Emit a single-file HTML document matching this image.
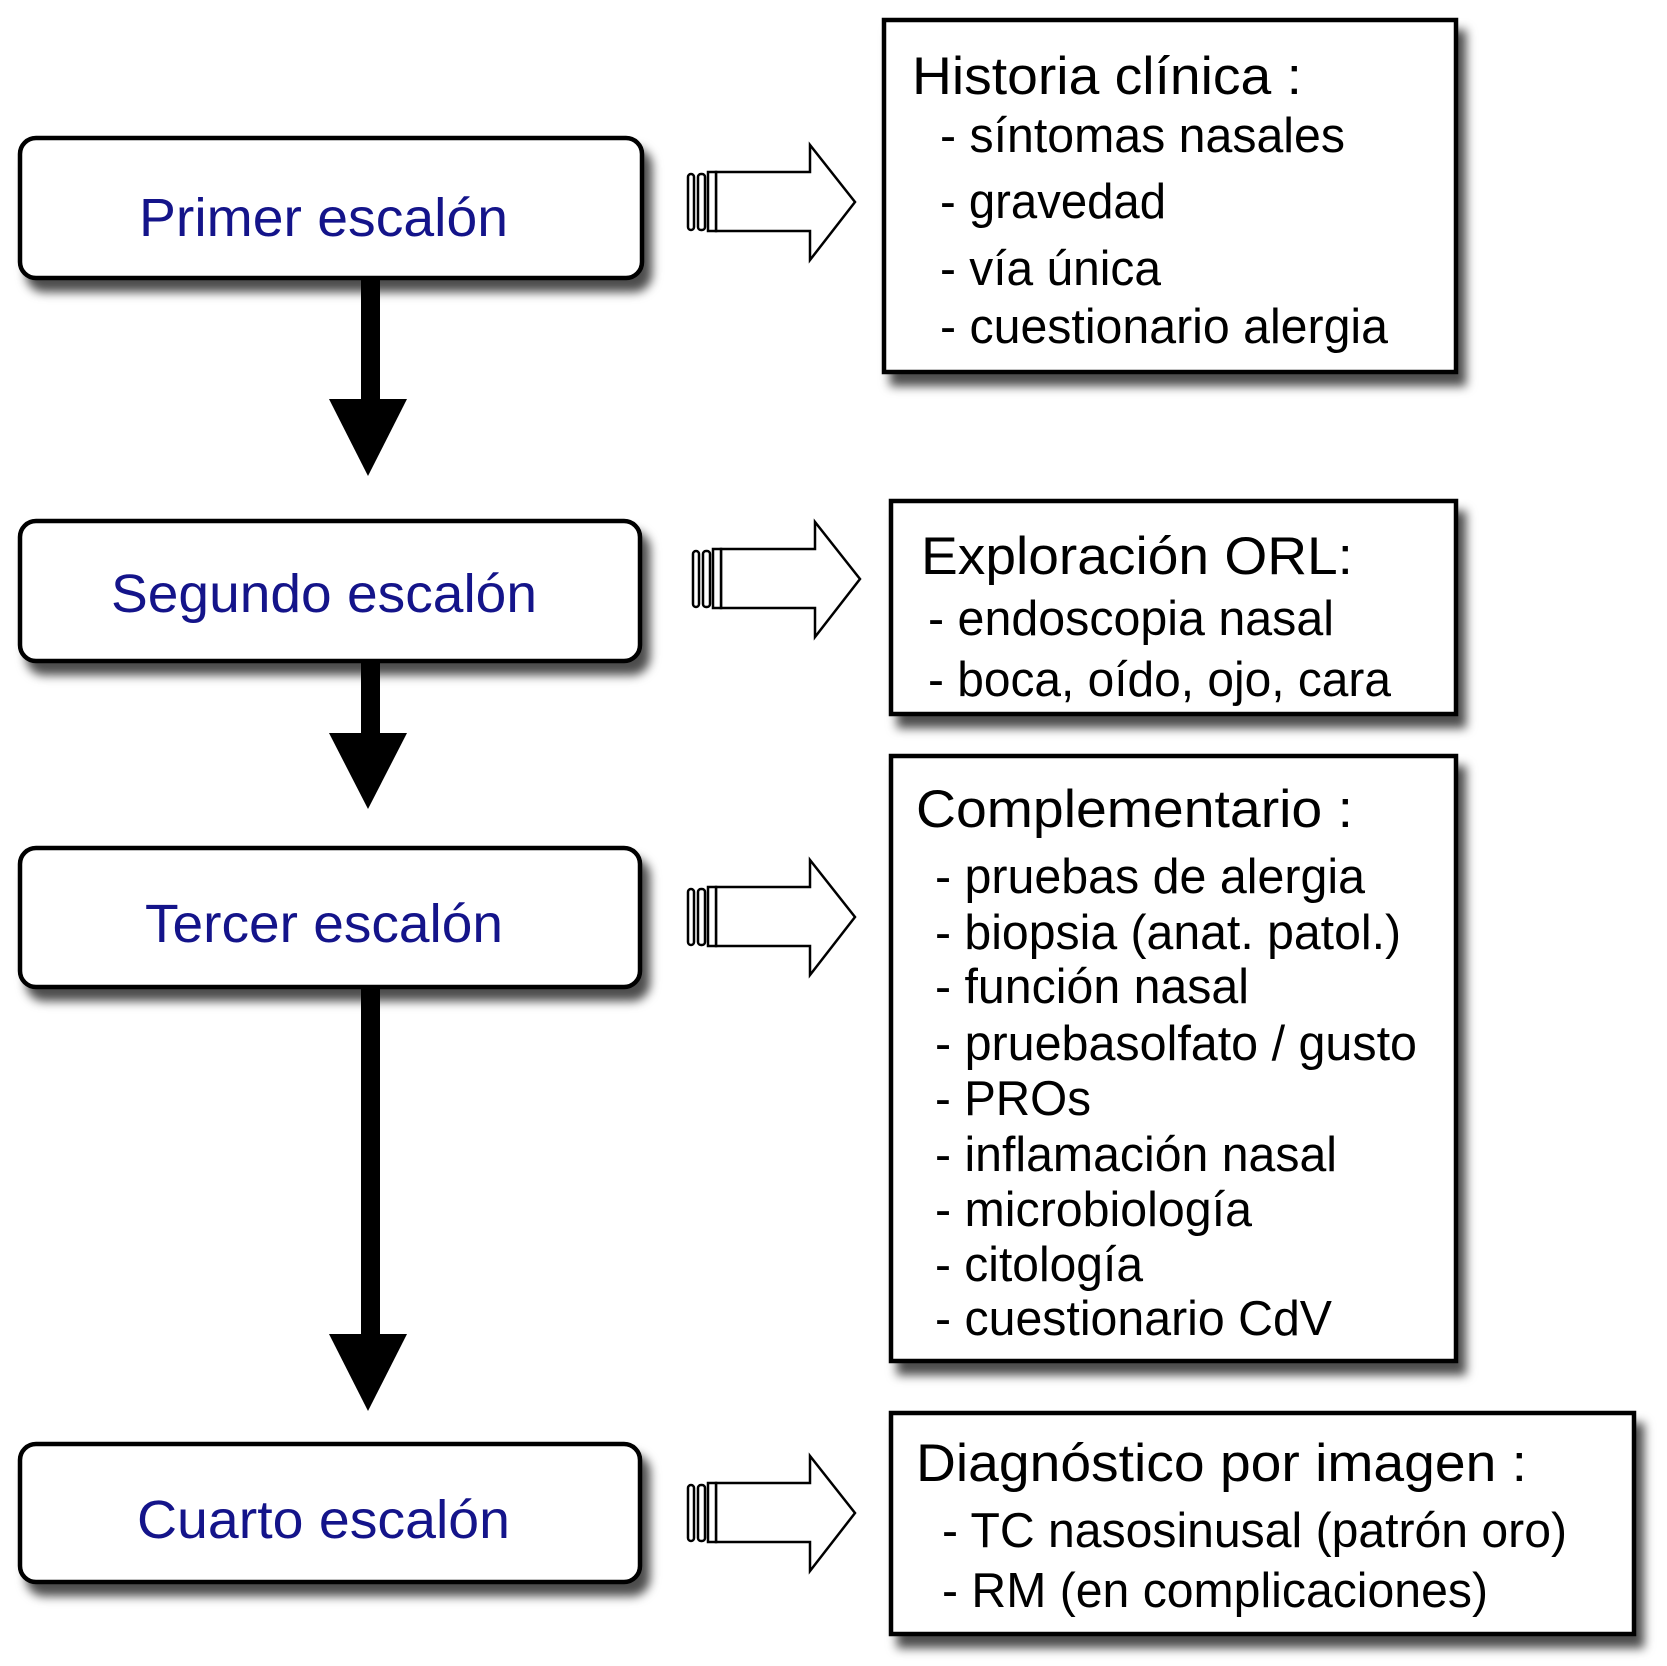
<!DOCTYPE html>
<html><head><meta charset="utf-8"><style>html,body{margin:0;padding:0;background:#fff}svg{display:block}</style></head>
<body>
<svg width="1667" height="1666" viewBox="0 0 1667 1666" xmlns="http://www.w3.org/2000/svg" font-family="'Liberation Sans', sans-serif">
<defs>
<filter id="sh" x="-10%" y="-10%" width="130%" height="140%">
<feDropShadow dx="8" dy="12" stdDeviation="5" flood-color="#000" flood-opacity="0.7"/>
</filter>
<g id="ha">
<polygon points="716,-30 810,-30 810,-57 855,0 810,58 810,29 716,29" fill="#fff" stroke="#000" stroke-width="2.5" stroke-linejoin="miter"/>
<rect x="688" y="-28" width="6" height="56" rx="3" fill="#fff" stroke="#000" stroke-width="2.5"/>
<rect x="698" y="-28" width="7" height="56" rx="3" fill="#fff" stroke="#000" stroke-width="2.5"/>
<rect x="708" y="-30" width="8" height="59" fill="#fff" stroke="#000" stroke-width="2.5"/>
</g>
</defs>

<g fill="#fff" stroke="#000" stroke-width="4.5" filter="url(#sh)">
<rect x="20" y="138" width="622" height="140" rx="16"/>
<rect x="20" y="521" width="620" height="140" rx="16"/>
<rect x="20" y="848" width="620" height="139" rx="16"/>
<rect x="20" y="1444" width="620" height="138" rx="16"/>
</g>
<g fill="#14148a" font-size="54">
<text x="139" y="236" textLength="369" lengthAdjust="spacingAndGlyphs">Primer escalón</text>
<text x="111" y="612" textLength="426" lengthAdjust="spacingAndGlyphs">Segundo escalón</text>
<text x="145" y="942" textLength="358" lengthAdjust="spacingAndGlyphs">Tercer escalón</text>
<text x="137" y="1538" textLength="373" lengthAdjust="spacingAndGlyphs">Cuarto escalón</text>
</g>

<g fill="#000">
<rect x="361" y="278" width="19" height="124"/>
<polygon points="329,399 407,399 368,476"/>
<rect x="361" y="661" width="19" height="75"/>
<polygon points="329,733 407,733 368,809"/>
<rect x="361" y="987" width="19" height="350"/>
<polygon points="329,1334 407,1334 368,1411"/>
</g>

<use href="#ha" transform="translate(0,202)"/>
<use href="#ha" transform="translate(5,579)"/>
<use href="#ha" transform="translate(0,917)"/>
<use href="#ha" transform="translate(0,1513)"/>

<g fill="#fff" stroke="#000" stroke-width="4.5" filter="url(#sh)">
<rect x="884" y="20" width="572" height="352"/>
<rect x="891" y="501" width="565" height="213"/>
<rect x="891" y="756" width="565" height="605"/>
<rect x="891" y="1413" width="743" height="221"/>
</g>
<g fill="#000">
<text x="912" y="94" font-size="53" textLength="390" lengthAdjust="spacingAndGlyphs">Historia clínica :</text>
<g font-size="49">
<text x="940" y="152" textLength="405" lengthAdjust="spacingAndGlyphs">- síntomas nasales</text>
<text x="940" y="218" textLength="226" lengthAdjust="spacingAndGlyphs">- gravedad</text>
<text x="940" y="285" textLength="221" lengthAdjust="spacingAndGlyphs">- vía única</text>
<text x="940" y="343" textLength="448" lengthAdjust="spacingAndGlyphs">- cuestionario alergia</text>
</g>
<text x="921" y="574" font-size="53" textLength="432" lengthAdjust="spacingAndGlyphs">Exploración ORL:</text>
<g font-size="49">
<text x="928" y="635" textLength="406" lengthAdjust="spacingAndGlyphs">- endoscopia nasal</text>
<text x="928" y="696" textLength="463" lengthAdjust="spacingAndGlyphs">- boca, oído, ojo, cara</text>
</g>
<text x="916" y="827" font-size="53" textLength="437" lengthAdjust="spacingAndGlyphs">Complementario :</text>
<g font-size="49">
<text x="935" y="893" textLength="430" lengthAdjust="spacingAndGlyphs">- pruebas de alergia</text>
<text x="935" y="949" textLength="466" lengthAdjust="spacingAndGlyphs">- biopsia (anat. patol.)</text>
<text x="935" y="1003" textLength="314" lengthAdjust="spacingAndGlyphs">- función nasal</text>
<text x="935" y="1060" textLength="482" lengthAdjust="spacingAndGlyphs">- pruebasolfato / gusto</text>
<text x="935" y="1115" textLength="156" lengthAdjust="spacingAndGlyphs">- PROs</text>
<text x="935" y="1171" textLength="402" lengthAdjust="spacingAndGlyphs">- inflamación nasal</text>
<text x="935" y="1226" textLength="317" lengthAdjust="spacingAndGlyphs">- microbiología</text>
<text x="935" y="1281" textLength="208" lengthAdjust="spacingAndGlyphs">- citología</text>
<text x="935" y="1335" textLength="397" lengthAdjust="spacingAndGlyphs">- cuestionario CdV</text>
</g>
<text x="916" y="1481" font-size="53" textLength="611" lengthAdjust="spacingAndGlyphs">Diagnóstico por imagen :</text>
<g font-size="49">
<text x="942" y="1547" textLength="625" lengthAdjust="spacingAndGlyphs">- TC nasosinusal (patrón oro)</text>
<text x="942" y="1607" textLength="546" lengthAdjust="spacingAndGlyphs">- RM (en complicaciones)</text>
</g>
</g>
</svg>
</body></html>
